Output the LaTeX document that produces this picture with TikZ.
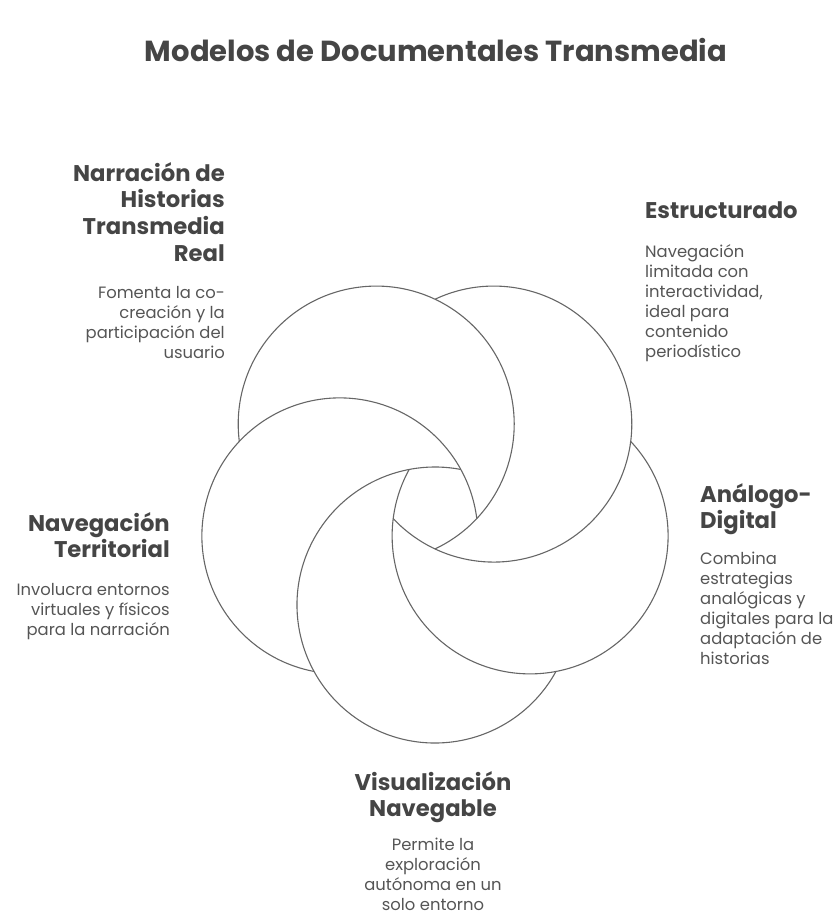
\documentclass[tikz,border=0pt]{standalone}
\usepackage{fontspec}
\setmainfont{Poppins}
\usetikzlibrary{positioning}
\definecolor{inkhead}{HTML}{454545}
\definecolor{inkbody}{HTML}{555555}
\definecolor{ringline}{HTML}{666666}
\tikzset{
  ring/.style={draw=ringline, line width=1.1pt},
  titletxt/.style={font=\fontsize{29}{34}\selectfont\bfseries, text=inkhead, inner sep=0pt},
  headtxt/.style={font=\fontsize{22.7}{26.7}\selectfont\bfseries, text=inkhead, inner sep=0pt, text depth=5pt},
  bodytxt/.style={font=\fontsize{16.4}{20}\selectfont, text=inkbody, inner sep=0pt},
}
\begin{document}
\begin{tikzpicture}[x=1pt,y=1pt]
  \useasboundingbox (-435,-415) rectangle (402,505);
  \def\dist{100}
  \def\rad{138}
  % five rings, each one over its clockwise neighbour
  \foreach \ang in {126,54,-18,-90,198}
    \draw[ring] (\ang:\dist) ++({\ang+61.2}:\rad)
      arc[start angle=\ang+61.2, end angle=\ang-190.8, radius=\rad];

  \node[titletxt] (title) at (1,455) {Modelos de Documentales Transmedia};

  % Narracion (top left)
  \node[headtxt, align=right, anchor=north east] (nrHead) at (-210,343)
    {Narración de\\Historias\\Transmedia\\Real};
  \node[bodytxt, align=right, below=20pt of nrHead.south east, anchor=north east] (nrBody)
    {Fomenta la co-\\creación y la\\participación del\\usuario};

  % Estructurado (top right)
  \node[headtxt, align=left, anchor=north west] (esHead) at (210,303) {Estructurado};
  \node[bodytxt, align=left, below=20pt of esHead.south west, anchor=north west] (esBody)
    {Navegación\\limitada con\\interactividad,\\ideal para\\contenido\\periodístico};

  % Analogo-Digital (right)
  \node[headtxt, align=left, anchor=north west] (adHead) at (265,22) {Análogo-\\Digital};
  \node[bodytxt, align=left, below=18pt of adHead.south west, anchor=north west] (adBody)
    {Combina\\estrategias\\analógicas y\\digitales para la\\adaptación de\\historias};

  % Navegacion Territorial (left)
  \node[headtxt, align=right, anchor=north east] (ntHead) at (-265,-7) {Navegación\\Territorial};
  \node[bodytxt, align=right, below=20pt of ntHead.south east, anchor=north east] (ntBody)
    {Involucra entornos\\virtuales y físicos\\para la narración};

  % Visualizacion Navegable (bottom)
  \node[headtxt, align=center, anchor=north] (vnHead) at (-2,-266) {Visualización\\Navegable};
  \node[bodytxt, align=center, below=16pt of vnHead] (vnBody)
    {Permite la\\exploración\\autónoma en un\\solo entorno};
\end{tikzpicture}
\end{document}
